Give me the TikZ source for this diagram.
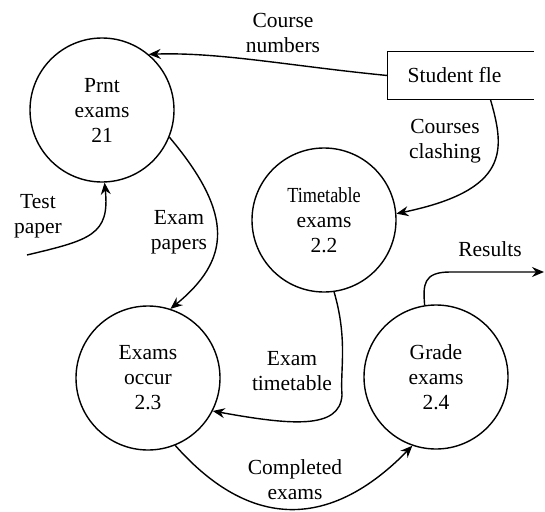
\documentclass[tikz,border=0pt]{standalone}
\usepackage{fontspec}
\setmainfont{Liberation Serif}
\usetikzlibrary{arrows.meta}

\begin{document}
\begin{tikzpicture}[x=1pt,y=-1pt,line width=1.4pt,
		font=\fontsize{21.5}{25}\selectfont,
		proc/.style={circle,draw,minimum size=144pt,inner sep=0pt,align=center},
		store/.style={minimum width=145pt,minimum height=47pt,inner sep=0pt},
		lbl/.style={align=center},
		flow/.style={-{Stealth[length=12pt,width=10pt,inset=4pt]}}]
		\useasboundingbox (0,0) rectangle (545,511);
		% processes
		\node[proc] (prnt) at (102,110) {Prnt\\exams\\21};
		\node[proc] (tt) at (324,220) {\scalebox{0.85}[1]{Timetable}\\exams\\2.2};
		\node[proc] (occur) at (148,378) {Exams\\occur\\2.3};
		\node[proc] (grade) at (436,377) {Grade\\exams\\2.4};
		% data store, open on the right
		\node[store] (file) at (460.5,75.5) {\hspace*{-12pt}Student fle};
		\draw (file.north east) -- (file.north west) -- (file.south west) -- (file.south east);
		% free ends
		\coordinate (paperin) at (27,255);
		\coordinate (resout) at (544,272);
		% flows
		\draw[flow] (file.west) .. controls (290,66) and (220,52) .. (prnt.50);
		\draw[flow] ([xshift=30pt]file.south) .. controls (505,150) and (510,190) .. (tt.5);
		\draw[flow] (paperin) .. controls (90,240) and (110,235) .. (prnt.-88);
		\draw[flow] (prnt.-22) .. controls (235,215) and (230,260) .. (occur.72);
		\draw[flow] (tt.-82) .. controls (348,340) and (340,370) .. (342,395)
			.. controls (340,430) and (290,425) .. (occur.-27);
		\draw[flow] (occur.-68) .. controls (250,530) and (330,530) .. (grade.-109);
		\draw[flow] (grade.99) .. controls (423,285) and (423,272) .. (450,272) -- (resout);
		% labels
		\node[lbl] (l1) at (283,33) {Course\\numbers};
		\node[lbl] (l2) at (445,141) {Courses\\clashing};
		\node[lbl] (l3) at (38,216) {Test\\paper};
		\node[lbl] (l4) at (179,232) {Exam\\papers};
		\node[lbl] (l5) at (292,371) {Exam\\timetable};
		\node[lbl] (l6) at (295,480) {Completed\\exams};
		\node[lbl] (l7) at (490,249) {Results};
	\end{tikzpicture}
\end{document}
